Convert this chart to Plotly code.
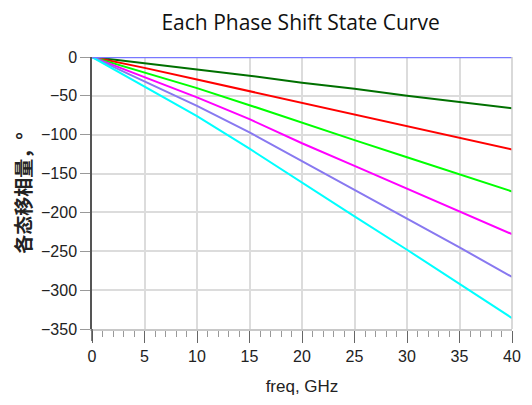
import plotly.graph_objects as go

freq = [0, 5, 10, 15, 20, 25, 30, 35, 40]
state_ref = [0, 0, 0, 0, 0, 0, 0, 0, 0]
state_1 = [0, -8, -16, -24, -33, -41, -50, -58, -66]
state_2 = [0, -14, -29, -44, -59, -74, -89, -104, -119]
state_3 = [0, -20, -40, -62, -85, -107, -129, -151, -173]
state_4 = [0, -26, -52, -80, -111, -140, -169, -199, -228]
state_5 = [0, -32, -63, -97, -134, -170, -207, -245, -283]
state_6 = [0, -38, -76, -118, -162, -205, -248, -292, -336]

series = [state_ref, state_1, state_2, state_3, state_4, state_5, state_6]
colors = ["#7878ff", "#007000", "#ff0000", "#00ff00", "#ff00ff", "#8878f0", "#00ffff"]

fig = go.Figure()
for ys, c in zip(series[1:], colors[1:]):
    fig.add_trace(go.Scatter(x=freq, y=ys, mode="lines", line=dict(color=c, width=2), showlegend=False))
fig.add_trace(go.Scatter(x=freq, y=state_ref, mode="lines", line=dict(color=colors[0], width=2.5),
                         showlegend=False, cliponaxis=False))

fig.update_layout(
    width=532, height=405,
    margin=dict(l=92, r=11, t=57, b=76),
    paper_bgcolor="white", plot_bgcolor="white",
    title=dict(text="Each Phase Shift State Curve", x=0.565, xanchor="center", y=0.945, yanchor="middle",
               font=dict(family="Open Sans, Noto Sans", size=21, color="#111")),
)
fig.update_xaxes(
    range=[0, 40], dtick=5, tick0=0,
    showgrid=True, gridcolor="#dcdcdc", gridwidth=1.5,
    showline=True, linecolor="#c8c8c8", linewidth=1.5, mirror=False,
    ticks="outside", ticklen=12, tickcolor="#666", tickwidth=1.2,
    minor=dict(dtick=1, ticks="outside", ticklen=6, tickcolor="#999", showgrid=False),
    tickfont=dict(family="Liberation Sans, Arial", size=16, color="#222"),
    title=dict(text="freq, GHz", font=dict(family="Liberation Sans, Arial", size=17, color="#222"), standoff=16),
    zeroline=False,
)
fig.update_yaxes(
    range=[-350, 0], dtick=50,
    showgrid=True, gridcolor="#dcdcdc", gridwidth=1.5,
    showline=True, linecolor="#555", linewidth=1.5,
    ticks="outside", ticklen=10, tickcolor="#999",
    tickfont=dict(family="Liberation Sans, Arial", size=16, color="#222"),
    title=dict(text="<b>各态移相量，°</b>", font=dict(family="Noto Sans CJK SC", size=19, color="#222"), standoff=4),
    zeroline=False,
)
fig.add_shape(type="line", xref="paper", yref="paper", x0=1, x1=1, y0=0, y1=1,
              line=dict(color="#cccccc", width=1.5))
fig.add_shape(type="line", xref="paper", yref="paper", x0=0, x1=0, y0=0, y1=-0.044,
              line=dict(color="#555", width=1.5))
fig.write_html("out.html")
